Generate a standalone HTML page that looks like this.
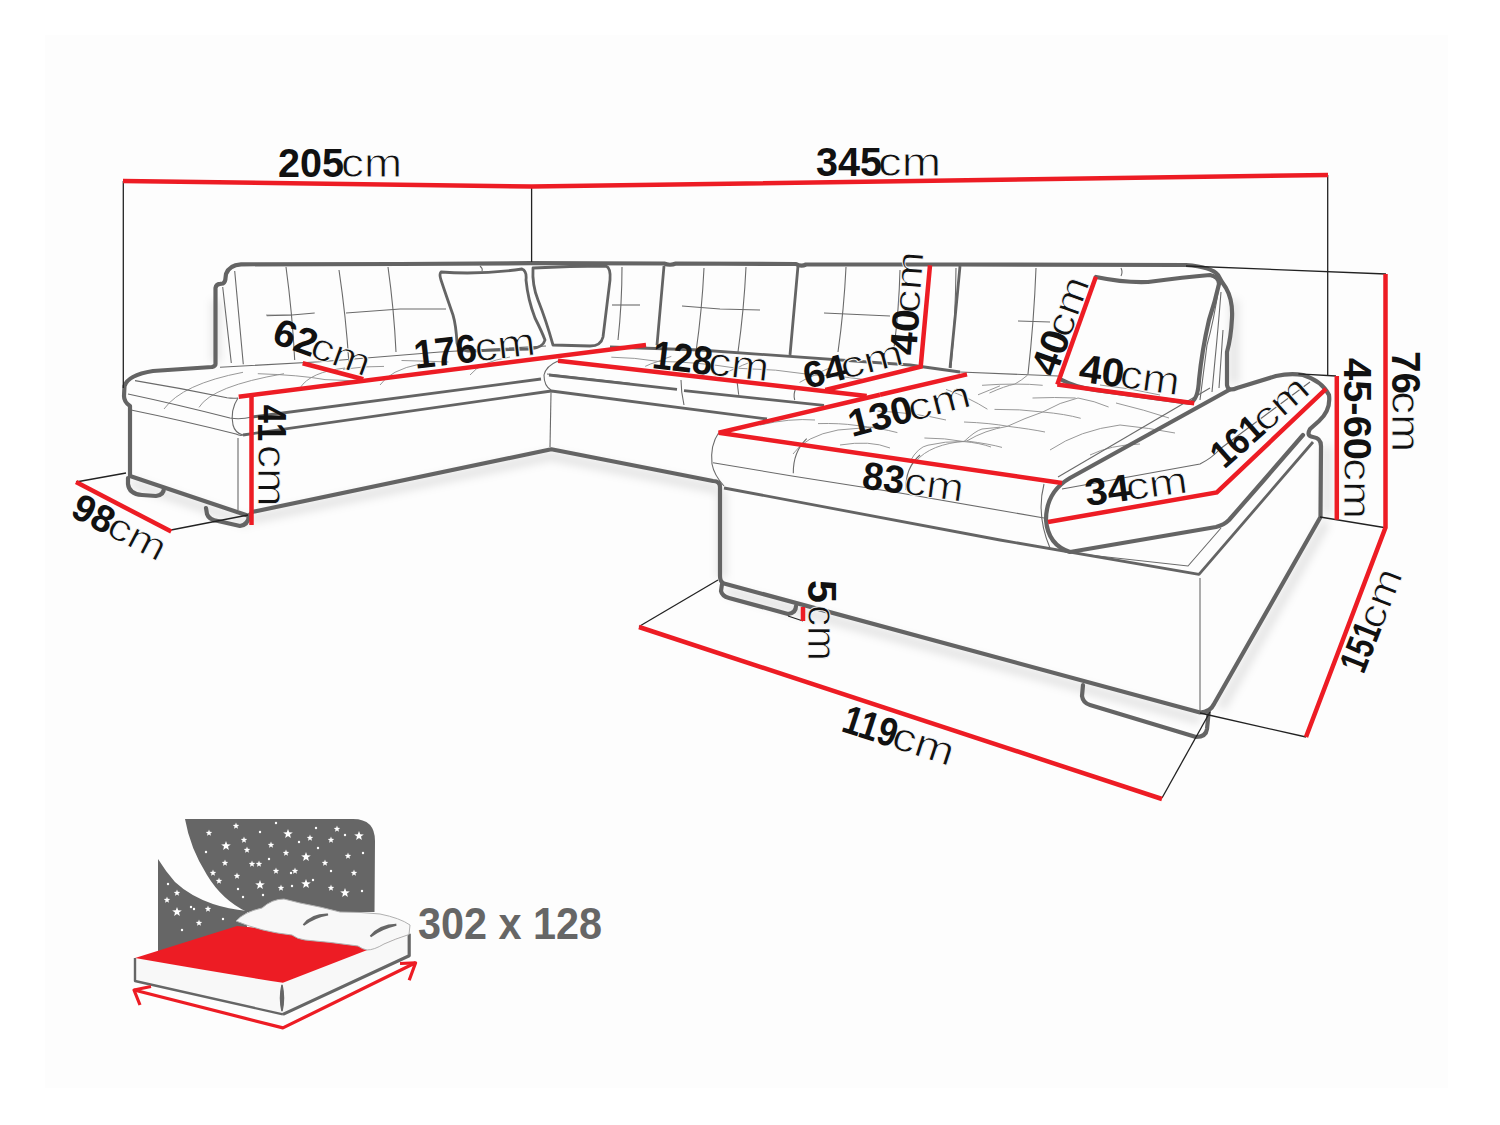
<!DOCTYPE html>
<html><head><meta charset="utf-8"><style>
html,body{margin:0;padding:0;background:#fff;}
svg{display:block;}
text{font-family:"Liberation Sans",sans-serif;}
</style></head><body>
<svg width="1500" height="1125" viewBox="0 0 1500 1125">
<rect x="0" y="0" width="1500" height="1125" fill="#ffffff"/>
<rect x="45" y="35" width="1403" height="1053" fill="#fdfdfd"/>
<defs><filter id="sh" x="-10%" y="-10%" width="120%" height="120%"><feGaussianBlur stdDeviation="4"/></filter></defs>
<g filter="url(#sh)" fill="none" stroke="#000" stroke-opacity="0.10" stroke-width="9">
<path d="M252,519 L551,456 L718,489"/>
<path d="M131,483 L249,523"/>
<path d="M726,591 L1200,720"/>
<path d="M1326,522 L1221,708"/>
<path d="M1234,300 L1234,384"/>
<path d="M1327,446 L1327,515"/>
<path d="M722,490 L722,578"/>
<path d="M216,300 L216,362"/>
</g>
<path d="M793,454 Q805,436 838,430 L874,427" fill="none" stroke="#8c8c8c" stroke-width="0.9"/>
<path d="M818,423.6 Q840,423 856,425.4 Q880,428 897.4,432.6" fill="none" stroke="#8c8c8c" stroke-width="0.9"/>
<path d="M910,461.4 Q918,447 928,445.2 Q945,441 964,441.6" fill="none" stroke="#8c8c8c" stroke-width="0.9"/>
<path d="M924.4,438 Q945,438 964,441.6 Q980,443 991,447" fill="none" stroke="#8c8c8c" stroke-width="0.9"/>
<path d="M964,441.6 Q975,431 982,429 L1000,427.2" fill="none" stroke="#8c8c8c" stroke-width="0.9"/>
<path d="M877.6,411 Q895,412 910,413.7 Q930,416 946,420" fill="none" stroke="#8c8c8c" stroke-width="0.9"/>
<path d="M946,389.4 Q970,398 987.4,409.2" fill="none" stroke="#8c8c8c" stroke-width="0.9"/>
<path d="M978,394.8 Q990,390 1000,385.8" fill="none" stroke="#8c8c8c" stroke-width="0.9"/>
<path d="M916,461.3 Q930,444 966.7,441 Q990,444 1002,447.4" fill="none" stroke="#8c8c8c" stroke-width="0.9"/>
<path d="M966.7,441 Q985,430 1007.2,426.4 Q1025,418 1042.7,412 Q1060,402 1078,398 Q1095,401 1108.6,407" fill="none" stroke="#8c8c8c" stroke-width="0.9"/>
<path d="M964,422 Q990,423 1008.5,426.4 Q1030,429 1045,432" fill="none" stroke="#8c8c8c" stroke-width="0.9"/>
<path d="M994.5,409.4 Q1020,409 1042.7,412 Q1065,414 1080.7,418.3" fill="none" stroke="#8c8c8c" stroke-width="0.9"/>
<path d="M982,385.3 Q1000,384 1014.8,384.1 Q1030,384 1042.7,385.3" fill="none" stroke="#8c8c8c" stroke-width="0.9"/>
<path d="M989.5,393 Q1005,386 1014.8,384.1 Q1022,380 1027.5,375.2" fill="none" stroke="#8c8c8c" stroke-width="0.9"/>
<path d="M1032.5,398 Q1055,397 1075.6,398" fill="none" stroke="#8c8c8c" stroke-width="0.9"/>
<path d="M1116,403 Q1145,410 1169,418" fill="none" stroke="#8c8c8c" stroke-width="0.9"/>
<path d="M1050,450 Q1080,430 1120,425 Q1150,428 1175,433" fill="none" stroke="#8c8c8c" stroke-width="0.9"/>
<path d="M1090,455 Q1110,445 1140,444" fill="none" stroke="#8c8c8c" stroke-width="0.9"/>
<path d="M1100,385 Q1130,388 1160,395" fill="none" stroke="#8c8c8c" stroke-width="0.9"/>
<path d="M840,445 Q870,440 890,448" fill="none" stroke="#8c8c8c" stroke-width="0.9"/>
<path d="M760,425 Q790,418 815,420" fill="none" stroke="#8c8c8c" stroke-width="0.9"/>
<path d="M164,409 Q182,384 243,372.3" fill="none" stroke="#8c8c8c" stroke-width="0.9"/>
<path d="M199,407.4 Q212,386 284,373.7" fill="none" stroke="#8c8c8c" stroke-width="0.9"/>
<path d="M257.8,373.7 Q300,375 325,379.6 L360.5,381" fill="none" stroke="#8c8c8c" stroke-width="0.9"/>
<path d="M343,369.3 Q365,366 384,366.4" fill="none" stroke="#8c8c8c" stroke-width="0.9"/>
<path d="M401.5,360.5 Q425,361 448.4,362" fill="none" stroke="#8c8c8c" stroke-width="0.9"/>
<path d="M300,388 Q310,372 345,368" fill="none" stroke="#8c8c8c" stroke-width="0.9"/>
<path d="M380,385 Q390,370 420,364" fill="none" stroke="#8c8c8c" stroke-width="0.9"/>
<path d="M266,315 L292,315" fill="none" stroke="#8c8c8c" stroke-width="0.9"/>
<path d="M470,375 Q480,362 510,357" fill="none" stroke="#8c8c8c" stroke-width="0.9"/>
<path d="M658.2,361.4 Q697.4,361.8 736.5,368.2" fill="none" stroke="#8c8c8c" stroke-width="0.9"/>
<path d="M658.2,361.4 Q634.8,357.5 611.3,357.2" fill="none" stroke="#8c8c8c" stroke-width="0.9"/>
<path d="M658.2,361.4 Q663.0,358.9 671.3,356.4" fill="none" stroke="#8c8c8c" stroke-width="0.9"/>
<path d="M658.2,361.4 Q649.9,363.9 645.2,366.4" fill="none" stroke="#8c8c8c" stroke-width="0.9"/>
<path d="M736.5,368.2 Q775.6,368.7 814.8,375.1" fill="none" stroke="#8c8c8c" stroke-width="0.9"/>
<path d="M736.5,368.2 Q741.8,365.2 750.6,362.1" fill="none" stroke="#8c8c8c" stroke-width="0.9"/>
<path d="M736.5,368.2 Q727.7,371.3 722.4,374.4" fill="none" stroke="#8c8c8c" stroke-width="0.9"/>
<path d="M814.8,375.1 Q838.2,375.4 861.7,379.2" fill="none" stroke="#8c8c8c" stroke-width="0.9"/>
<path d="M814.8,375.1 Q820.5,371.5 829.9,367.9" fill="none" stroke="#8c8c8c" stroke-width="0.9"/>
<path d="M814.8,375.1 Q805.4,378.8 799.6,382.4" fill="none" stroke="#8c8c8c" stroke-width="0.9"/>
<path d="M135,380.6 Q180,388 227,397.7 Q233,398.5 238,398" fill="none" stroke="#6a6a6a" stroke-width="1.1"/>
<path d="M220,367.3 L320,361.7 L440,352 L546,346" fill="none" stroke="#6a6a6a" stroke-width="1.1"/>
<path d="M960,372 L1058,376" fill="none" stroke="#6a6a6a" stroke-width="1.1"/>
<path d="M718.7,432.7 Q710,445 712,464 Q714,475 724,486" fill="none" stroke="#6a6a6a" stroke-width="1.1"/>
<path d="M713,462.7 L792,476 L900,493 L1044,518" fill="none" stroke="#6a6a6a" stroke-width="1.1"/>
<path d="M806.7,438.7 Q793,452 793.3,473.3" fill="none" stroke="#6a6a6a" stroke-width="1.1"/>
<path d="M920,455 Q905,468 906,490" fill="none" stroke="#6a6a6a" stroke-width="1.1"/>
<path d="M1044,484 Q1036,515 1050,548" fill="none" stroke="#6a6a6a" stroke-width="1.1"/>
<path d="M1058,477 L1210,388" fill="none" stroke="#6a6a6a" stroke-width="1.1"/>
<path d="M1062,489 L1200,464 Q1212,458 1220,449 L1310,382" fill="none" stroke="#6a6a6a" stroke-width="1.1"/>
<path d="M1080,554 L1188,566 L1221,528" fill="none" stroke="#6a6a6a" stroke-width="1.1"/>
<path d="M1200,578 L1200,712" fill="none" stroke="#6a6a6a" stroke-width="1.1"/>
<path d="M551,393 L550,447" fill="none" stroke="#6a6a6a" stroke-width="1.1"/>
<path d="M238,438 L238,510" fill="none" stroke="#6a6a6a" stroke-width="1.1"/>
<path d="M128,394 Q175,404 230,418 Q240,420 252,417" fill="none" stroke="#6a6a6a" stroke-width="1.1"/>
<path d="M131,410 Q180,420 236,434 Q240,436 243,435" fill="none" stroke="#6a6a6a" stroke-width="1.1"/>
<path d="M238,398 Q230,410 233,425 Q235,433 243,435" fill="none" stroke="#6a6a6a" stroke-width="1.1"/>
<path d="M558,361 Q546,366 544,375 Q544,386 551,390" fill="none" stroke="#6a6a6a" stroke-width="1.1"/>
<path d="M547,374 L630,383.3" fill="none" stroke="#6a6a6a" stroke-width="1.1"/>
<path d="M681,380 Q681,392 684,405" fill="none" stroke="#6a6a6a" stroke-width="1.1"/>
<path d="M737,381 L738.7,394.7" fill="none" stroke="#6a6a6a" stroke-width="1.1"/>
<path d="M796,388 Q793,394 794.7,400" fill="none" stroke="#6a6a6a" stroke-width="1.1"/>
<path d="M222.7,287 L231.3,363 M234.7,271 L243.3,364.3" fill="none" stroke="#6a6a6a" stroke-width="1.1"/>
<path d="M286,267 Q292.35,313.5 294.7,360" fill="none" stroke="#6a6a6a" stroke-width="1.1"/>
<path d="M339,270 Q346.0,317.0 349,364" fill="none" stroke="#6a6a6a" stroke-width="1.1"/>
<path d="M388,267 Q394.0,309.5 396,352" fill="none" stroke="#6a6a6a" stroke-width="1.1"/>
<path d="M480,266 Q483.0,268.5 482,271" fill="none" stroke="#6a6a6a" stroke-width="1.1"/>
<path d="M622,267 Q622.0,303.5 618,340" fill="none" stroke="#6a6a6a" stroke-width="1.1"/>
<path d="M704,268 Q702.0,310.0 696,352" fill="none" stroke="#6a6a6a" stroke-width="1.1"/>
<path d="M746,267 Q744.0,309.5 738,352" fill="none" stroke="#6a6a6a" stroke-width="1.1"/>
<path d="M846,267 Q844.0,309.5 838,352" fill="none" stroke="#6a6a6a" stroke-width="1.1"/>
<path d="M900,270 Q899.0,309.0 894,348" fill="none" stroke="#6a6a6a" stroke-width="1.1"/>
<path d="M956,268 Q955.5,318.0 951,368" fill="none" stroke="#6a6a6a" stroke-width="1.1"/>
<path d="M1036,268 Q1034.0,321.0 1028,374" fill="none" stroke="#6a6a6a" stroke-width="1.1"/>
<path d="M1121,268 Q1123.0,272.0 1121,276" fill="none" stroke="#6a6a6a" stroke-width="1.1"/>
<path d="M266.7,315.7 L292,315 L314.7,313" fill="none" stroke="#6a6a6a" stroke-width="1.1"/>
<path d="M346,313 L400,309 L446,309" fill="none" stroke="#6a6a6a" stroke-width="1.1"/>
<path d="M612,305 L640,305" fill="none" stroke="#6a6a6a" stroke-width="1.1"/>
<path d="M682,306 L720,309 L760,310" fill="none" stroke="#6a6a6a" stroke-width="1.1"/>
<path d="M824,313 L890,316" fill="none" stroke="#6a6a6a" stroke-width="1.1"/>
<path d="M1018,321 L1050,322" fill="none" stroke="#6a6a6a" stroke-width="1.1"/>
<path d="M1219,286 Q1214,320 1207,345 L1200,400 M1221,292 Q1218,330 1215,360 L1212,392 M1223,330 L1219,388" fill="none" stroke="#6a6a6a" stroke-width="1.1"/>
<path d="M724,488 L1000,540 L1199,574.4 L1313,442" fill="none" stroke="#646464" stroke-width="2.8" stroke-linejoin="round"/>
<path d="M243,435 L551.3,391 L767,419" fill="none" stroke="#646464" stroke-width="2.8" stroke-linejoin="round"/>
<path d="M252,417 L541,379" fill="none" stroke="#646464" stroke-width="2.8" stroke-linejoin="round"/>
<path d="M549,375 L677,389.3 M684,390.7 L824,405.3" fill="none" stroke="#646464" stroke-width="2.8" stroke-linejoin="round"/>
<path d="M610,347 L700,350 L910,365 L960,372" fill="none" stroke="#646464" stroke-width="2.8" stroke-linejoin="round"/>
<path d="M441,272 Q480,275 522,269 Q527,271 526,280 Q528,300 535,318 Q542,332 545,340 Q543,348 530,349 L468,351 Q458,350 457,343 Q456,325 453,315 Q446,295 441,280 Q439,274 441,272 Z" fill="none" stroke="#646464" stroke-width="2.8" stroke-linejoin="round"/>
<path d="M533,268 Q570,266 606,266 Q611,268 610,280 L603,337 Q601,346 590,346 L553,345 Q546,320 538,300 Q532,285 533,268 Z" fill="none" stroke="#646464" stroke-width="2.8" stroke-linejoin="round"/>
<path d="M664,266 Q660,310 657,345 M798,266 Q794,310 790,355 M960,266 Q955,320 950,368" fill="none" stroke="#646464" stroke-width="2.8" stroke-linejoin="round"/>
<path d="M215.5,364 L215.5,288 Q216,284 220,283.8 L223,283.5 Q225.5,282 225.5,278 L226,274 Q229,265 241,264.3 L400,264 L530,263.2 L664,263.5 Q670,266 676,263.5 L796,264 Q801,267 806,264.5 L950,264.5 L1186,265 Q1212,267 1218,275 Q1221,281 1226,288 Q1233,300 1232,318 Q1231,338 1227,352 L1227,385 Q1228,392 1237,388 L1276,376 Q1290,373 1303,375 Q1322,381 1329,395 Q1331,410 1319,421 L1310,429 Q1306,436 1313,437 Q1321,438 1321,446 L1320.5,517 L1214,704 Q1210,712.5 1200,712.5 L724,583.5 Q720,582 720,576 L720,487 Q720,481 713,481 L551.3,449.3 L252,512 L249,516 L130,476 L130,406 Q124,402 124,396 L124.5,386 Q128,375 153,371 L212,367 Q215.5,366 215.5,364 Z" fill="none" stroke="#646464" stroke-width="4.2" stroke-linejoin="round" stroke-linecap="round"/>
<path d="M128,478 L128,484 Q129,494 142,495 L156,496 Q164,495 164,488" fill="none" stroke="#646464" stroke-width="4.2" stroke-linejoin="round" stroke-linecap="round"/>
<path d="M206,508 L207,514 Q209,520 218,521 L240,526 Q248,525 249,516" fill="none" stroke="#646464" stroke-width="4.2" stroke-linejoin="round" stroke-linecap="round"/>
<path d="M722,584 L721,591 Q722,596 729,598 L788,614 Q796,613 796,606" fill="none" stroke="#646464" stroke-width="4.2" stroke-linejoin="round" stroke-linecap="round"/>
<path d="M1083,685 L1082,696 Q1083,703 1090,705 L1196,737 Q1206,737 1207,729 L1208.8,711" fill="none" stroke="#646464" stroke-width="4.2" stroke-linejoin="round" stroke-linecap="round"/>
<path d="M1229,390 L1070,478 Q1046,492 1046,520 Q1048,545 1070,552 L1216,527 Q1224,525 1229,520 L1264,480 L1303,435" fill="none" stroke="#646464" stroke-width="4.2" stroke-linejoin="round" stroke-linecap="round"/>
<path d="M1096,277 Q1125,283 1148,282 Q1185,277 1210,275 Q1219,277 1219,284 Q1215,302 1209,320 Q1202,350 1199,380 Q1198,400 1190,403 L1095,390 Q1075,387 1062,380" fill="none" stroke="#646464" stroke-width="4.2" stroke-linejoin="round" stroke-linecap="round"/>
<path d="M123.3,181 L123.3,388" fill="none" stroke="#222" stroke-width="1.3"/>
<path d="M531.6,187 L531.6,262" fill="none" stroke="#222" stroke-width="1.3"/>
<path d="M1327.7,175 L1327.7,376" fill="none" stroke="#222" stroke-width="1.3"/>
<path d="M1186,266 L1386,274" fill="none" stroke="#222" stroke-width="1.3"/>
<path d="M1298.4,373.9 L1336,376" fill="none" stroke="#222" stroke-width="1.3"/>
<path d="M1320,517 L1384,527.5" fill="none" stroke="#222" stroke-width="1.3"/>
<path d="M1200,713 L1306,737" fill="none" stroke="#222" stroke-width="1.3"/>
<path d="M1162,798 L1210,712" fill="none" stroke="#222" stroke-width="1.3"/>
<path d="M718,580 L639,626.5" fill="none" stroke="#222" stroke-width="1.3"/>
<path d="M788,616 L803,621" fill="none" stroke="#222" stroke-width="1.3"/>
<path d="M126,473 L76,482" fill="none" stroke="#222" stroke-width="1.3"/>
<path d="M171,530 L248,515" fill="none" stroke="#222" stroke-width="1.3"/>
<path d="M123,181 L531.6,186.5 L1328,175" fill="none" stroke="#ed1c24" stroke-width="4.5" stroke-linejoin="miter"/>
<path d="M238.7,396.7 L646,345" fill="none" stroke="#ed1c24" stroke-width="4.5" stroke-linejoin="miter"/>
<path d="M302.7,363.3 L363.3,379.3" fill="none" stroke="#ed1c24" stroke-width="4.5" stroke-linejoin="miter"/>
<path d="M251.5,397 L251.5,525" fill="none" stroke="#ed1c24" stroke-width="4.5" stroke-linejoin="miter"/>
<path d="M558,360.7 L866.7,396" fill="none" stroke="#ed1c24" stroke-width="4.5" stroke-linejoin="miter"/>
<path d="M825.3,390 L920.7,366.7 L930,265.3" fill="none" stroke="#ed1c24" stroke-width="4.5" stroke-linejoin="miter"/>
<path d="M880,394.7 L718.7,432.7 L1062,483" fill="none" stroke="#ed1c24" stroke-width="4.5" stroke-linejoin="miter"/>
<path d="M880,394.7 L967,374.4" fill="none" stroke="#ed1c24" stroke-width="4.5" stroke-linejoin="miter"/>
<path d="M1057.3,384.5 L1095.9,276.8" fill="none" stroke="#ed1c24" stroke-width="4.5" stroke-linejoin="miter"/>
<path d="M1057.3,384.5 L1194.2,403.2" fill="none" stroke="#ed1c24" stroke-width="4.5" stroke-linejoin="miter"/>
<path d="M1048,522 L1216.8,492.4 L1326,388.8" fill="none" stroke="#ed1c24" stroke-width="4.5" stroke-linejoin="miter"/>
<path d="M1336.8,376 L1336.8,519.7" fill="none" stroke="#ed1c24" stroke-width="4.5" stroke-linejoin="miter"/>
<path d="M1385.5,274 L1385.5,527.5 L1306,737" fill="none" stroke="#ed1c24" stroke-width="4.5" stroke-linejoin="miter"/>
<path d="M639,627 L1162,799" fill="none" stroke="#ed1c24" stroke-width="4.5" stroke-linejoin="miter"/>
<path d="M803,607 L803,621" fill="none" stroke="#ed1c24" stroke-width="4.5" stroke-linejoin="miter"/>
<path d="M76,482 L171.2,531.6" fill="none" stroke="#ed1c24" stroke-width="4.5" stroke-linejoin="miter"/>
<g transform="translate(339.5,163) rotate(0)"><text x="1.5" y="13.8" font-size="40" fill="#111" stroke="#fff" stroke-width="0.8" textLength="61" lengthAdjust="spacingAndGlyphs">cm</text></g>
<g transform="translate(878,162.5) rotate(0)"><text x="0.0" y="13.8" font-size="40" fill="#111" stroke="#fff" stroke-width="0.8" textLength="63" lengthAdjust="spacingAndGlyphs">cm</text></g>
<g transform="translate(322,347) rotate(20)"><text x="-10.0" y="13.1" font-size="38" fill="#111" stroke="#fff" stroke-width="0.8" textLength="61" lengthAdjust="spacingAndGlyphs">cm</text></g>
<g transform="translate(474,348) rotate(-6.6)"><text x="0.5" y="13.8" font-size="40" fill="#111" stroke="#fff" stroke-width="0.8" textLength="61" lengthAdjust="spacingAndGlyphs">cm</text></g>
<g transform="translate(710.5,361) rotate(6.6)"><text x="-2.0" y="13.8" font-size="40" fill="#111" stroke="#fff" stroke-width="0.8" textLength="61" lengthAdjust="spacingAndGlyphs">cm</text></g>
<g transform="translate(852.5,364.2) rotate(-14.4)"><text x="-12.5" y="12.7" font-size="37" fill="#111" stroke="#fff" stroke-width="0.8" textLength="64" lengthAdjust="spacingAndGlyphs">cm</text></g>
<g transform="translate(906.7,303.5) rotate(-85.7)"><text x="-9.5" y="13.1" font-size="38" fill="#111" stroke="#fff" stroke-width="0.8" textLength="62" lengthAdjust="spacingAndGlyphs">cm</text></g>
<g transform="translate(908.8,408.7) rotate(-14.5)"><text x="-1.0" y="13.1" font-size="38" fill="#111" stroke="#fff" stroke-width="0.8" textLength="64" lengthAdjust="spacingAndGlyphs">cm</text></g>
<g transform="translate(912.9,481.7) rotate(7.6)"><text x="-8.5" y="13.4" font-size="39" fill="#111" stroke="#fff" stroke-width="0.8" textLength="60" lengthAdjust="spacingAndGlyphs">cm</text></g>
<g transform="translate(1129.2,374.6) rotate(7.9)"><text x="-9.0" y="13.8" font-size="40" fill="#111" stroke="#fff" stroke-width="0.8" textLength="60" lengthAdjust="spacingAndGlyphs">cm</text></g>
<g transform="translate(1060,326) rotate(-70.2)"><text x="-9.5" y="13.4" font-size="39" fill="#111" stroke="#fff" stroke-width="0.8" textLength="61" lengthAdjust="spacingAndGlyphs">cm</text></g>
<g transform="translate(1259,421.5) rotate(-41.4)"><text x="-4.0" y="13.1" font-size="38" fill="#111" stroke="#fff" stroke-width="0.8" textLength="63" lengthAdjust="spacingAndGlyphs">cm</text></g>
<g transform="translate(1135.6,486.3) rotate(-7.6)"><text x="-10.0" y="13.1" font-size="38" fill="#111" stroke="#fff" stroke-width="0.8" textLength="62" lengthAdjust="spacingAndGlyphs">cm</text></g>
<g transform="translate(1357,438) rotate(90)"><text x="20.0" y="13.4" font-size="39" fill="#111" stroke="#fff" stroke-width="0.8" textLength="61" lengthAdjust="spacingAndGlyphs">cm</text></g>
<g transform="translate(1405.8,401) rotate(90)"><text x="-10.0" y="13.8" font-size="40" fill="#111" stroke="#fff" stroke-width="0.8" textLength="61" lengthAdjust="spacingAndGlyphs">cm</text></g>
<g transform="translate(271.6,455.3) rotate(90)"><text x="-10.5" y="13.8" font-size="40" fill="#111" stroke="#fff" stroke-width="0.8" textLength="62" lengthAdjust="spacingAndGlyphs">cm</text></g>
<g transform="translate(119.5,527) rotate(27.5)"><text x="-10.0" y="13.1" font-size="38" fill="#111" stroke="#fff" stroke-width="0.8" textLength="61" lengthAdjust="spacingAndGlyphs">cm</text></g>
<g transform="translate(822,620) rotate(90)"><text x="-15.0" y="13.8" font-size="40" fill="#111" stroke="#fff" stroke-width="0.8" textLength="56" lengthAdjust="spacingAndGlyphs">cm</text></g>
<g transform="translate(898.6,735.3) rotate(18)"><text x="-5.0" y="13.8" font-size="40" fill="#111" stroke="#fff" stroke-width="0.8" textLength="63" lengthAdjust="spacingAndGlyphs">cm</text></g>
<g transform="translate(1370.7,620.3) rotate(-68.5)"><text x="-6.5" y="13.4" font-size="39" fill="#111" stroke="#fff" stroke-width="0.8" textLength="61" lengthAdjust="spacingAndGlyphs">cm</text></g>
<g transform="translate(339.5,163) rotate(0)"><text x="-61.5" y="13.8" font-size="40" font-weight="bold" fill="#111" textLength="66" lengthAdjust="spacingAndGlyphs">205</text></g>
<g transform="translate(878,162.5) rotate(0)"><text x="-62.0" y="13.8" font-size="40" font-weight="bold" fill="#111" textLength="66" lengthAdjust="spacingAndGlyphs">345</text></g>
<g transform="translate(322,347) rotate(20)"><text x="-50.0" y="13.1" font-size="38" font-weight="bold" fill="#111" textLength="44" lengthAdjust="spacingAndGlyphs">62</text></g>
<g transform="translate(474,348) rotate(-6.6)"><text x="-60.5" y="13.8" font-size="40" font-weight="bold" fill="#111" textLength="63" lengthAdjust="spacingAndGlyphs">176</text></g>
<g transform="translate(710.5,361) rotate(6.6)"><text x="-58.0" y="13.8" font-size="40" font-weight="bold" fill="#111" textLength="60" lengthAdjust="spacingAndGlyphs">128</text></g>
<g transform="translate(852.5,364.2) rotate(-14.4)"><text x="-50.5" y="12.7" font-size="37" font-weight="bold" fill="#111" textLength="43" lengthAdjust="spacingAndGlyphs">64</text></g>
<g transform="translate(906.7,303.5) rotate(-85.7)"><text x="-51.5" y="13.1" font-size="38" font-weight="bold" fill="#111" textLength="46" lengthAdjust="spacingAndGlyphs">40</text></g>
<g transform="translate(908.8,408.7) rotate(-14.5)"><text x="-62.0" y="13.1" font-size="38" font-weight="bold" fill="#111" textLength="65" lengthAdjust="spacingAndGlyphs">130</text></g>
<g transform="translate(912.9,481.7) rotate(7.6)"><text x="-50.5" y="13.4" font-size="39" font-weight="bold" fill="#111" textLength="42" lengthAdjust="spacingAndGlyphs">83</text></g>
<g transform="translate(1129.2,374.6) rotate(7.9)"><text x="-50.0" y="13.8" font-size="40" font-weight="bold" fill="#111" textLength="45" lengthAdjust="spacingAndGlyphs">40</text></g>
<g transform="translate(1060,326) rotate(-70.2)"><text x="-50.5" y="13.4" font-size="39" font-weight="bold" fill="#111" textLength="45" lengthAdjust="spacingAndGlyphs">40</text></g>
<g transform="translate(1259,421.5) rotate(-41.4)"><text x="-58.0" y="13.1" font-size="38" font-weight="bold" fill="#111" textLength="57" lengthAdjust="spacingAndGlyphs">161</text></g>
<g transform="translate(1135.6,486.3) rotate(-7.6)"><text x="-51.0" y="13.1" font-size="38" font-weight="bold" fill="#111" textLength="45" lengthAdjust="spacingAndGlyphs">34</text></g>
<g transform="translate(1357,438) rotate(90)"><text x="-80.0" y="13.4" font-size="39" font-weight="bold" fill="#111" textLength="102" lengthAdjust="spacingAndGlyphs">45-60</text></g>
<g transform="translate(1405.8,401) rotate(90)"><text x="-50.0" y="13.8" font-size="40" font-weight="bold" fill="#111" textLength="43" lengthAdjust="spacingAndGlyphs">76</text></g>
<g transform="translate(271.6,455.3) rotate(90)"><text x="-50.5" y="13.8" font-size="40" font-weight="bold" fill="#111" textLength="36.5" lengthAdjust="spacingAndGlyphs">41</text></g>
<g transform="translate(119.5,527) rotate(27.5)"><text x="-50.0" y="13.1" font-size="38" font-weight="bold" fill="#111" textLength="42" lengthAdjust="spacingAndGlyphs">98</text></g>
<g transform="translate(822,620) rotate(90)"><text x="-40.0" y="13.8" font-size="40" font-weight="bold" fill="#111" textLength="23" lengthAdjust="spacingAndGlyphs">5</text></g>
<g transform="translate(898.6,735.3) rotate(18)"><text x="-57.0" y="13.8" font-size="40" font-weight="bold" fill="#111" textLength="55" lengthAdjust="spacingAndGlyphs">119</text></g>
<g transform="translate(1370.7,620.3) rotate(-68.5)"><text x="-53.5" y="13.4" font-size="39" font-weight="bold" fill="#111" textLength="50" lengthAdjust="spacingAndGlyphs">151</text></g>
<path d="M185,819 L353,819 Q375,819 375,841 L374.5,912 L247,912 Q222,900 207,875 Q190,848 185,819 Z" fill="#666666"/>
<path d="M158,859 Q166,872 175,882 Q190,896 213,904 Q228,909 247,911 L247,930 L158,956 Z" fill="#666666"/>
<polygon points="226.0,841.0 227.2,844.3 230.8,844.5 228.0,846.6 228.9,850.0 226.0,848.1 223.1,850.0 224.0,846.6 221.2,844.5 224.8,844.3" fill="#fff"/>
<polygon points="288.0,829.0 289.2,832.3 292.8,832.5 290.0,834.6 290.9,838.0 288.0,836.1 285.1,838.0 286.0,834.6 283.2,832.5 286.8,832.3" fill="#fff"/>
<polygon points="359.0,831.0 360.2,834.3 363.8,834.5 361.0,836.6 361.9,840.0 359.0,838.1 356.1,840.0 357.0,836.6 354.2,834.5 357.8,834.3" fill="#fff"/>
<polygon points="306.0,852.0 307.2,855.3 310.8,855.5 308.0,857.6 308.9,861.0 306.0,859.1 303.1,861.0 304.0,857.6 301.2,855.5 304.8,855.3" fill="#fff"/>
<polygon points="260.0,880.0 261.2,883.3 264.8,883.5 262.0,885.6 262.9,889.0 260.0,887.1 257.1,889.0 258.0,885.6 255.2,883.5 258.8,883.3" fill="#fff"/>
<polygon points="306.0,879.0 307.2,882.3 310.8,882.5 308.0,884.6 308.9,888.0 306.0,886.1 303.1,888.0 304.0,884.6 301.2,882.5 304.8,882.3" fill="#fff"/>
<polygon points="345.0,888.0 346.2,891.3 349.8,891.5 347.0,893.6 347.9,897.0 345.0,895.1 342.1,897.0 343.0,893.6 340.2,891.5 343.8,891.3" fill="#fff"/>
<polygon points="177.0,907.0 178.2,910.3 181.8,910.5 179.0,912.6 179.9,916.0 177.0,914.1 174.1,916.0 175.0,912.6 172.2,910.5 175.8,910.3" fill="#fff"/>
<polygon points="209.0,829.6 209.8,831.8 212.2,831.9 210.4,833.4 211.0,835.8 209.0,834.4 207.0,835.8 207.6,833.4 205.8,831.9 208.2,831.8" fill="#fff"/>
<polygon points="236.0,822.6 236.8,824.8 239.2,824.9 237.4,826.4 238.0,828.8 236.0,827.4 234.0,828.8 234.6,826.4 232.8,824.9 235.2,824.8" fill="#fff"/>
<polygon points="244.0,836.6 244.8,838.8 247.2,838.9 245.4,840.4 246.0,842.8 244.0,841.4 242.0,842.8 242.6,840.4 240.8,838.9 243.2,838.8" fill="#fff"/>
<polygon points="337.0,825.6 337.8,827.8 340.2,827.9 338.4,829.4 339.0,831.8 337.0,830.4 335.0,831.8 335.6,829.4 333.8,827.9 336.2,827.8" fill="#fff"/>
<polygon points="331.0,836.6 331.8,838.8 334.2,838.9 332.4,840.4 333.0,842.8 331.0,841.4 329.0,842.8 329.6,840.4 327.8,838.9 330.2,838.8" fill="#fff"/>
<polygon points="310.0,834.6 310.8,836.8 313.2,836.9 311.4,838.4 312.0,840.8 310.0,839.4 308.0,840.8 308.6,838.4 306.8,836.9 309.2,836.8" fill="#fff"/>
<polygon points="271.0,841.6 271.8,843.8 274.2,843.9 272.4,845.4 273.0,847.8 271.0,846.4 269.0,847.8 269.6,845.4 267.8,843.9 270.2,843.8" fill="#fff"/>
<polygon points="247.0,846.6 247.8,848.8 250.2,848.9 248.4,850.4 249.0,852.8 247.0,851.4 245.0,852.8 245.6,850.4 243.8,848.9 246.2,848.8" fill="#fff"/>
<polygon points="286.0,849.6 286.8,851.8 289.2,851.9 287.4,853.4 288.0,855.8 286.0,854.4 284.0,855.8 284.6,853.4 282.8,851.9 285.2,851.8" fill="#fff"/>
<polygon points="225.0,859.6 225.8,861.8 228.2,861.9 226.4,863.4 227.0,865.8 225.0,864.4 223.0,865.8 223.6,863.4 221.8,861.9 224.2,861.8" fill="#fff"/>
<polygon points="252.0,860.6 252.8,862.8 255.2,862.9 253.4,864.4 254.0,866.8 252.0,865.4 250.0,866.8 250.6,864.4 248.8,862.9 251.2,862.8" fill="#fff"/>
<polygon points="259.0,860.6 259.8,862.8 262.2,862.9 260.4,864.4 261.0,866.8 259.0,865.4 257.0,866.8 257.6,864.4 255.8,862.9 258.2,862.8" fill="#fff"/>
<polygon points="325.0,859.6 325.8,861.8 328.2,861.9 326.4,863.4 327.0,865.8 325.0,864.4 323.0,865.8 323.6,863.4 321.8,861.9 324.2,861.8" fill="#fff"/>
<polygon points="348.0,852.6 348.8,854.8 351.2,854.9 349.4,856.4 350.0,858.8 348.0,857.4 346.0,858.8 346.6,856.4 344.8,854.9 347.2,854.8" fill="#fff"/>
<polygon points="213.0,869.6 213.8,871.8 216.2,871.9 214.4,873.4 215.0,875.8 213.0,874.4 211.0,875.8 211.6,873.4 209.8,871.9 212.2,871.8" fill="#fff"/>
<polygon points="237.0,872.6 237.8,874.8 240.2,874.9 238.4,876.4 239.0,878.8 237.0,877.4 235.0,878.8 235.6,876.4 233.8,874.9 236.2,874.8" fill="#fff"/>
<polygon points="276.0,867.6 276.8,869.8 279.2,869.9 277.4,871.4 278.0,873.8 276.0,872.4 274.0,873.8 274.6,871.4 272.8,869.9 275.2,869.8" fill="#fff"/>
<polygon points="295.0,867.6 295.8,869.8 298.2,869.9 296.4,871.4 297.0,873.8 295.0,872.4 293.0,873.8 293.6,871.4 291.8,869.9 294.2,869.8" fill="#fff"/>
<polygon points="354.0,869.6 354.8,871.8 357.2,871.9 355.4,873.4 356.0,875.8 354.0,874.4 352.0,875.8 352.6,873.4 350.8,871.9 353.2,871.8" fill="#fff"/>
<polygon points="219.0,877.6 219.8,879.8 222.2,879.9 220.4,881.4 221.0,883.8 219.0,882.4 217.0,883.8 217.6,881.4 215.8,879.9 218.2,879.8" fill="#fff"/>
<polygon points="281.0,884.6 281.8,886.8 284.2,886.9 282.4,888.4 283.0,890.8 281.0,889.4 279.0,890.8 279.6,888.4 277.8,886.9 280.2,886.8" fill="#fff"/>
<polygon points="331.0,884.6 331.8,886.8 334.2,886.9 332.4,888.4 333.0,890.8 331.0,889.4 329.0,890.8 329.6,888.4 327.8,886.9 330.2,886.8" fill="#fff"/>
<polygon points="177.0,889.6 177.8,891.8 180.2,891.9 178.4,893.4 179.0,895.8 177.0,894.4 175.0,895.8 175.6,893.4 173.8,891.9 176.2,891.8" fill="#fff"/>
<polygon points="167.0,896.6 167.8,898.8 170.2,898.9 168.4,900.4 169.0,902.8 167.0,901.4 165.0,902.8 165.6,900.4 163.8,898.9 166.2,898.8" fill="#fff"/>
<polygon points="208.0,905.6 208.8,907.8 211.2,907.9 209.4,909.4 210.0,911.8 208.0,910.4 206.0,911.8 206.6,909.4 204.8,907.9 207.2,907.8" fill="#fff"/>
<polygon points="199.0,919.6 199.8,921.8 202.2,921.9 200.4,923.4 201.0,925.8 199.0,924.4 197.0,925.8 197.6,923.4 195.8,921.9 198.2,921.8" fill="#fff"/>
<circle cx="276" cy="823" r="1.2" fill="#fff"/>
<circle cx="260" cy="832" r="1.2" fill="#fff"/>
<circle cx="316" cy="828" r="1.2" fill="#fff"/>
<circle cx="345" cy="835" r="1.2" fill="#fff"/>
<circle cx="299" cy="842" r="1.2" fill="#fff"/>
<circle cx="318" cy="848" r="1.2" fill="#fff"/>
<circle cx="206" cy="852" r="1.2" fill="#fff"/>
<circle cx="269" cy="859" r="1.2" fill="#fff"/>
<circle cx="363" cy="853" r="1.2" fill="#fff"/>
<circle cx="331" cy="871" r="1.2" fill="#fff"/>
<circle cx="291" cy="873" r="1.2" fill="#fff"/>
<circle cx="313" cy="880" r="1.2" fill="#fff"/>
<circle cx="292" cy="886" r="1.2" fill="#fff"/>
<circle cx="238" cy="889" r="1.2" fill="#fff"/>
<circle cx="263" cy="895" r="1.2" fill="#fff"/>
<circle cx="243" cy="897" r="1.2" fill="#fff"/>
<circle cx="362" cy="891" r="1.2" fill="#fff"/>
<circle cx="168" cy="884" r="1.2" fill="#fff"/>
<circle cx="191" cy="907" r="1.2" fill="#fff"/>
<circle cx="194" cy="909" r="1.2" fill="#fff"/>
<circle cx="223" cy="919" r="1.2" fill="#fff"/>
<circle cx="182" cy="930" r="1.2" fill="#fff"/>
<path d="M135,958 L282.9,982.8 L282.9,1014.4 L135,981 Z" fill="#f8f8f8"/>
<path d="M282.9,982.8 L409.2,933.8 L409.2,955.7 L282.9,1014.4 Z" fill="#f8f8f8"/>
<path d="M135,958 L135,981 L282.9,1014.4" stroke="#666" stroke-width="2.4" fill="none" stroke-linejoin="round"/>
<path d="M282.9,1014.4 L409.2,955.7 L409.2,933.8" stroke="#666" stroke-width="3.2" fill="none" stroke-linejoin="round"/>
<path d="M282,985 Q279,998 282,1011 Q285,998 282,985 Z" fill="#666" stroke="#666" stroke-width="1.5"/>
<path d="M135,958 L237,926 L300,932 L409.2,933.8 L282.9,982.8 Q215,972 135,958 Z" fill="#ed1c24"/>
<path d="M236,921 Q244,912 262,908 Q272,899 284,899 Q292,901 300,903 Q322,907 340,912 Q362,912 380,914 Q400,918 410,925 L409,934.5 Q395,939 384,944 Q374,950 367,950 Q362,949 358,946 Q330,942 305,940 Q297,939 292,935 Q262,932 236,921 Z" fill="#f8f8f8" stroke="#b0b0b0" stroke-width="1"/>
<path d="M303.5,925 Q312,914 328,914.5 Q314,917 303.5,925 Z" fill="#666" stroke="#666" stroke-width="2"/>
<path d="M370.5,936.4 Q380,925 396.3,924.8 Q382,928 370.5,936.4 Z" fill="#666" stroke="#666" stroke-width="2"/>
<path d="M134,990 L282.9,1027.9 L415.6,962.8" stroke="#ed1c24" stroke-width="3.2" fill="none" stroke-linejoin="round"/>
<path d="M151,986.5 L134,990 L140,1005" stroke="#ed1c24" stroke-width="3.2" fill="none" stroke-linejoin="round"/>
<path d="M400,963.5 L415.6,962.8 L409.2,980.2" stroke="#ed1c24" stroke-width="3.2" fill="none" stroke-linejoin="round"/>
<text x="418" y="939" font-size="44" font-weight="bold" fill="#666" textLength="184" lengthAdjust="spacingAndGlyphs">302 x 128</text>
</svg>
</body></html>
